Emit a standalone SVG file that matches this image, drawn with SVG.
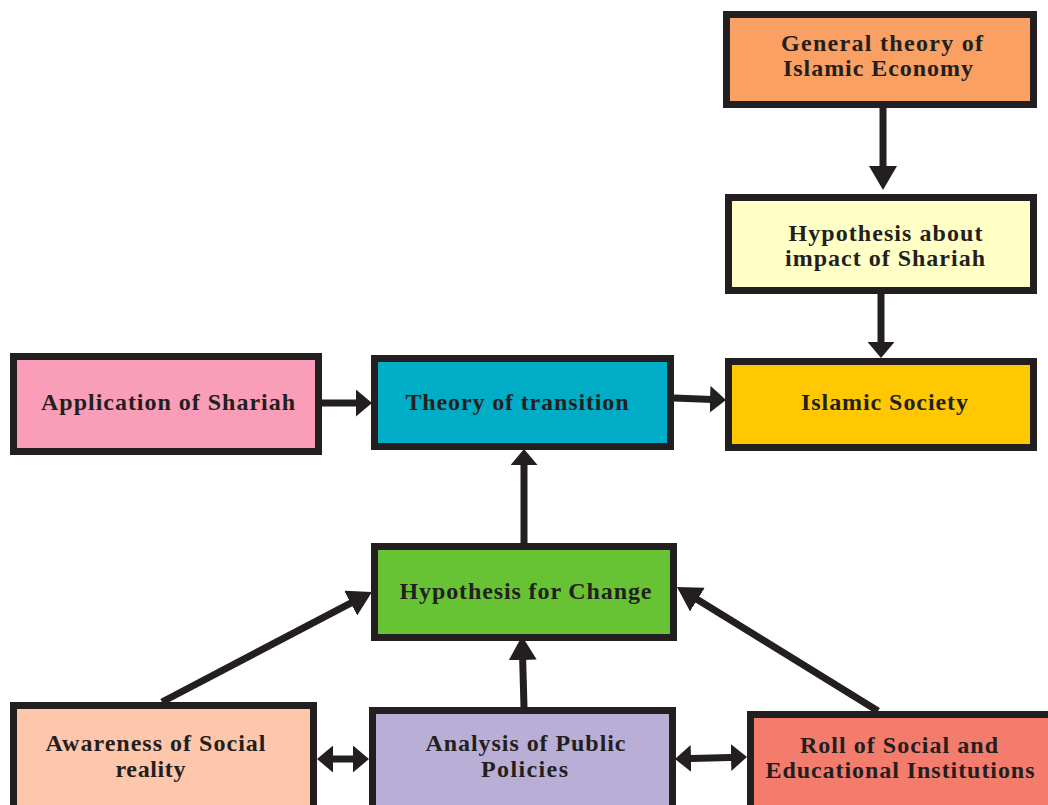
<svg xmlns="http://www.w3.org/2000/svg" width="1048" height="805" viewBox="0 0 1048 805">
  <style>
    .box { stroke: #231F20; stroke-width: 7; }
    .lbl { font-family: "Liberation Serif", "Times New Roman", serif; font-weight: bold; font-size: 24px; fill: #231F20; text-anchor: middle; }
    .wire { stroke: #231F20; stroke-width: 7; fill: none; }
    .big { marker-end: url(#headBig); }
    .small { marker-end: url(#headSmall); }
    .both { marker-start: url(#headSmall); marker-end: url(#headSmall); }
  </style>
  <defs>
    <marker id="headBig" markerUnits="userSpaceOnUse" markerWidth="25" markerHeight="28" refX="14" refY="14" orient="auto-start-reverse" viewBox="0 0 25 28">
      <path d="M0,0 L24,14 L0,28 z" fill="#231F20"/>
    </marker>
    <marker id="headSmall" markerUnits="userSpaceOnUse" markerWidth="17" markerHeight="27" refX="9" refY="13.5" orient="auto-start-reverse" viewBox="0 0 17 27">
      <path d="M0,0 L16,13.5 L0,27 z" fill="#231F20"/>
    </marker>
  </defs>

  <rect width="1048" height="805" fill="#FFFFFF"/>

  <!-- connectors -->
  <g id="connectors">
    <line class="wire big" x1="883" y1="108" x2="883" y2="180"/>
    <line class="wire small" x1="881" y1="294" x2="881" y2="351"/>
    <line class="wire small" x1="322" y1="403" x2="365" y2="403"/>
    <line class="wire small" x1="674" y1="398" x2="719" y2="399.7"/>
    <line class="wire small" x1="524" y1="543" x2="524" y2="456"/>
    <line class="wire big" x1="524" y1="707" x2="522.3" y2="646"/>
    <line class="wire big" x1="162" y1="702" x2="363.1" y2="596.6"/>
    <line class="wire big" x1="878" y1="711" x2="685.5" y2="592.2"/>
    <line class="wire both" x1="324" y1="759" x2="362" y2="759"/>
    <line class="wire both" x1="682" y1="758.8" x2="740" y2="757.2"/>
  </g>

  <!-- nodes -->
  <g id="general-theory">
    <rect class="box" x="726.5" y="14.5" width="307" height="90" fill="#F9A062"/>
    <text class="lbl" x="882" y="51" textLength="202">General theory of</text>
    <text class="lbl" x="878" y="76" textLength="190">Islamic Economy</text>
  </g>
  <g id="hypothesis-shariah">
    <rect class="box" x="728.5" y="197.5" width="305" height="93" fill="#FFFFC6"/>
    <text class="lbl" x="885.5" y="240.5" textLength="194">Hypothesis about</text>
    <text class="lbl" x="885" y="266" textLength="200">impact of Shariah</text>
  </g>
  <g id="islamic-society">
    <rect class="box" x="728.5" y="361.5" width="305" height="86" fill="#FFC800"/>
    <text class="lbl" x="884.5" y="410" textLength="167">Islamic Society</text>
  </g>
  <g id="application-shariah">
    <rect class="box" x="13.5" y="356.5" width="305" height="95" fill="#F99DB8"/>
    <text class="lbl" x="168" y="410" textLength="254">Application of Shariah</text>
  </g>
  <g id="theory-transition">
    <rect class="box" x="374.5" y="358.5" width="296" height="88" fill="#00ACC6"/>
    <text class="lbl" x="517" y="410" textLength="223">Theory of transition</text>
  </g>
  <g id="hypothesis-change">
    <rect class="box" x="374.5" y="546.5" width="299" height="91" fill="#68C334"/>
    <text class="lbl" x="525.5" y="599" textLength="252">Hypothesis for Change</text>
  </g>
  <g id="awareness">
    <rect class="box" x="13.5" y="705.5" width="300" height="110" fill="#FEC6AB"/>
    <text class="lbl" x="155.5" y="751" textLength="220">Awareness of Social</text>
    <text class="lbl" x="150.5" y="777" textLength="70">reality</text>
  </g>
  <g id="public-policies">
    <rect class="box" x="372.5" y="710.5" width="300" height="110" fill="#B8AED6"/>
    <text class="lbl" x="525.5" y="751" textLength="200">Analysis of Public</text>
    <text class="lbl" x="524.5" y="777" textLength="87">Policies</text>
  </g>
  <g id="institutions">
    <rect class="box" x="750.5" y="714.5" width="310" height="110" fill="#F47C6D"/>
    <text class="lbl" x="899" y="753" textLength="198">Roll of Social and</text>
    <text class="lbl" x="900" y="778" textLength="269">Educational Institutions</text>
  </g>
</svg>
